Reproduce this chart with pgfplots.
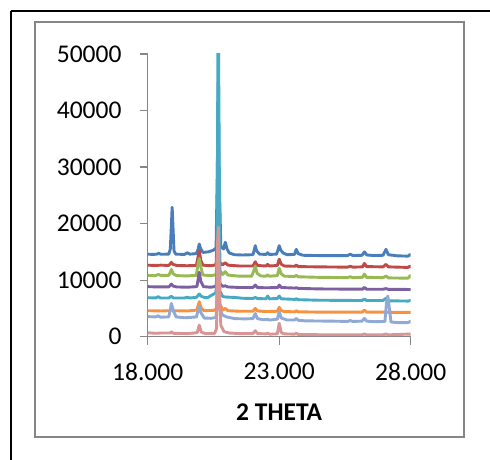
\documentclass[border=0pt]{standalone}
\usepackage{pgfplots}
\pgfplotsset{compat=1.18}
\usepackage{fontspec}
\setmainfont{Carlito}
\definecolor{sBlue}{HTML}{4A7EBB}
\definecolor{sRed}{HTML}{BE4B48}
\definecolor{sGreen}{HTML}{98B954}
\definecolor{sPurple}{HTML}{7D60A0}
\definecolor{sTeal}{HTML}{46AAC5}
\definecolor{sOrange}{HTML}{F69240}
\definecolor{sLBlue}{HTML}{91A9D5}
\definecolor{sPink}{HTML}{D99593}
\definecolor{axgray}{HTML}{868686}
\begin{document}
\begin{tikzpicture}[x=1pt,y=1pt]
\useasboundingbox (0,0) rectangle (490,460);
\clip (0,0) rectangle (490,460);
\fill[white] (0,0) rectangle (490,460);
\draw[black, line width=1.6pt] (11,449) -- (520,449);
\draw[black, line width=1.6pt] (11,449) -- (11,-20);
\draw[axgray, line width=1.4pt] (35,438) rectangle (464,23);
\begin{axis}[
  at={(147.7pt,123.3pt)}, anchor=south west,
  scale only axis, width=263pt, height=282.7pt,
  xmin=18, xmax=28, ymin=0, ymax=50000,
  axis x line*=bottom, axis y line*=left,
  axis line style={axgray, line width=1.4pt},
  xtick={18,23,28}, xticklabels={18.000,23.000,28.000},
  ytick={0,10000,20000,30000,40000,50000},
  yticklabels={0,10000,20000,30000,40000,50000},
  scaled y ticks=false,
  tick align=outside, major tick length=8pt,
  tick style={axgray, line width=1.2pt},
  /pgf/number format/assume math mode=true,
  ticklabel style={font=\fontsize{25.5}{30}\selectfont, text=black, inner sep=0pt},
  yticklabel style={anchor=east, xshift=-18pt},
  xticklabel style={anchor=north, yshift=-18pt},
  xlabel={\textbf{2 THETA}},
  xlabel style={font=\fontsize{25.5}{30}\selectfont, at={(axis description cs:0.5,0)}, anchor=center, yshift=-75pt},
  every axis plot/.append style={no markers, sharp plot, line width=2.9pt, line join=round},
]
\addplot[sBlue] coordinates {(18.00,14600) (18.20,14550) (18.35,14600) (18.42,14750) (18.50,14580) (18.80,14600) (18.86,15500) (18.93,22900) (19.00,15200) (19.06,14600) (19.40,14550) (19.50,14850) (19.60,14600) (19.85,14700) (19.92,15500) (19.96,16400) (20.01,15600) (20.10,14900) (20.30,15000) (20.50,15300) (20.60,15700) (20.65,30000) (20.68,45000) (20.71,30000) (20.78,16000) (20.88,15500) (20.95,16700) (21.02,15500) (21.10,14800) (21.30,14500) (21.60,14450) (22.00,14500) (22.05,15300) (22.09,16100) (22.14,15200) (22.25,14600) (22.50,14550) (22.56,14850) (22.62,14550) (22.90,14600) (22.95,15300) (23.00,16100) (23.06,15300) (23.15,14800) (23.30,14500) (23.58,14550) (23.65,15450) (23.72,14700) (23.90,14400) (24.50,14350) (25.00,14350) (25.60,14350) (25.70,14600) (25.80,14350) (26.15,14400) (26.24,15000) (26.33,14450) (26.60,14350) (26.95,14400) (27.06,15450) (27.15,14500) (27.50,14300) (27.90,14250) (27.98,14550) (28.05,14300)};
\addplot[sRed] coordinates {(18.00,12650) (18.30,12600) (18.50,12650) (18.80,12600) (18.86,12900) (18.90,13150) (18.96,12800) (19.10,12600) (19.50,12550) (19.85,12600) (19.91,14000) (19.96,15200) (20.02,13500) (20.10,12650) (20.40,12550) (20.60,12700) (20.66,19000) (20.69,19500) (20.73,13200) (20.85,12700) (20.95,13100) (21.05,12650) (21.50,12500) (22.00,12500) (22.09,13250) (22.17,12600) (22.50,12500) (22.56,12800) (22.62,12500) (22.93,12600) (23.00,13700) (23.08,12800) (23.20,12500) (23.60,12450) (23.65,12700) (23.72,12400) (24.50,12350) (25.60,12300) (25.70,12450) (25.80,12300) (26.17,12350) (26.24,12970) (26.32,12400) (26.95,12350) (27.06,12800) (27.15,12350) (27.90,12250) (27.98,12500) (28.05,12250)};
\addplot[sGreen] coordinates {(18.00,10850) (18.30,10800) (18.40,11000) (18.50,10850) (18.80,10850) (18.86,11400) (18.90,11900) (18.97,11100) (19.10,10800) (19.50,10750) (19.85,10850) (19.90,12500) (19.96,13850) (20.02,12300) (20.10,10900) (20.40,10800) (20.60,10950) (20.66,15500) (20.69,16000) (20.73,11800) (20.85,11000) (20.95,11500) (21.05,10900) (21.50,10700) (21.95,10700) (22.03,11600) (22.09,12500) (22.16,11200) (22.30,10750) (22.50,10700) (22.56,10950) (22.62,10700) (22.93,10800) (23.00,12100) (23.08,11100) (23.20,10700) (23.58,10650) (23.65,10850) (23.72,10600) (24.50,10500) (25.60,10450) (25.70,10600) (25.80,10450) (26.17,10500) (26.24,11080) (26.32,10500) (26.95,10450) (27.06,10730) (27.15,10400) (27.90,10350) (27.98,10800) (28.05,10400)};
\addplot[sPurple] coordinates {(18.00,8850) (18.40,8800) (18.80,8800) (18.86,9100) (18.90,9300) (18.97,8950) (19.10,8800) (19.50,8750) (19.87,8850) (19.92,10200) (19.96,11400) (20.02,9800) (20.12,8850) (20.40,8750) (20.60,8900) (20.66,12500) (20.69,13000) (20.73,9500) (20.85,8900) (20.95,9000) (21.05,8800) (21.50,8700) (22.00,8700) (22.09,9140) (22.17,8700) (22.50,8650) (22.95,8700) (23.00,9140) (23.08,8700) (23.60,8600) (23.65,8670) (23.72,8550) (24.50,8450) (26.17,8400) (26.24,8730) (26.32,8400) (26.95,8400) (27.06,8500) (27.15,8380) (28.05,8350)};
\addplot[sTeal] coordinates {(18.00,6900) (18.30,6850) (18.40,7080) (18.48,6850) (18.80,6850) (18.90,7140) (18.98,6850) (19.40,6850) (19.50,6960) (19.60,6850) (19.85,6950) (19.96,7550) (20.05,7100) (20.20,6900) (20.30,6950) (20.45,7400) (20.58,7700) (20.63,9000) (20.66,40000) (20.68,60000) (20.71,40000) (20.75,8000) (20.85,7100) (21.00,7000) (21.30,6950) (21.60,6800) (22.00,6750) (22.09,6950) (22.17,6750) (22.50,6700) (22.56,7190) (22.63,6700) (22.93,6750) (23.00,7190) (23.08,6700) (23.60,6600) (23.65,6700) (23.72,6550) (24.50,6450) (26.15,6400) (26.24,6660) (26.32,6400) (26.95,6400) (27.06,6800) (27.15,6350) (27.90,6300) (27.98,6400) (28.05,6300)};
\addplot[sOrange] coordinates {(18.00,4600) (18.50,4550) (18.86,4600) (18.92,4900) (18.98,4600) (19.50,4550) (19.87,4700) (19.96,6200) (20.04,5000) (20.15,4600) (20.50,4650) (20.62,4900) (20.66,10000) (20.69,12000) (20.73,6000) (20.85,4700) (20.95,5000) (21.05,4600) (21.50,4500) (22.00,4500) (22.09,5000) (22.17,4550) (22.50,4450) (22.93,4500) (23.00,5200) (23.08,4600) (23.20,4450) (23.60,4400) (23.65,4600) (23.72,4400) (24.50,4350) (26.15,4350) (26.24,4700) (26.32,4350) (26.95,4350) (27.06,4400) (27.15,4300) (28.05,4300)};
\addplot[sLBlue] coordinates {(18.00,3550) (18.30,3500) (18.40,3700) (18.48,3450) (18.80,3500) (18.86,4800) (18.90,5900) (18.98,4500) (19.08,3500) (19.40,3350) (19.60,3400) (19.85,3500) (19.91,4500) (19.96,5300) (20.03,4200) (20.15,3300) (20.40,3250) (20.60,3400) (20.65,9000) (20.69,11000) (20.73,5000) (20.85,3800) (21.00,3500) (21.30,3200) (21.70,3150) (22.00,3200) (22.09,4100) (22.17,3200) (22.40,3000) (22.56,3060) (22.65,2950) (22.93,3100) (23.00,4400) (23.08,3300) (23.30,2950) (23.58,2950) (23.65,3240) (23.72,2900) (24.00,2800) (25.00,2750) (25.60,2700) (25.70,2850) (25.80,2700) (26.15,2750) (26.24,3240) (26.33,2750) (26.60,2650) (27.02,2700) (27.08,6000) (27.13,7200) (27.19,5000) (27.25,2600) (27.50,2500) (27.90,2500) (27.98,2700) (28.05,2500)};
\addplot[sPink] coordinates {(18.00,700) (18.30,600) (18.50,650) (18.85,650) (18.90,880) (18.97,600) (19.50,550) (19.88,700) (19.96,2060) (20.04,800) (20.20,550) (20.55,600) (20.62,1500) (20.66,17000) (20.69,19400) (20.73,8000) (20.78,2000) (20.90,900) (21.10,650) (21.50,550) (22.00,550) (22.09,1060) (22.17,550) (22.50,500) (22.56,600) (22.63,450) (22.93,500) (23.00,2360) (23.08,700) (23.20,500) (23.58,450) (23.65,600) (23.72,400) (24.50,350) (26.15,350) (26.24,470) (26.32,350) (26.95,350) (27.06,470) (27.15,330) (27.98,470) (28.05,300)};
\end{axis}
\end{tikzpicture}
\end{document}
